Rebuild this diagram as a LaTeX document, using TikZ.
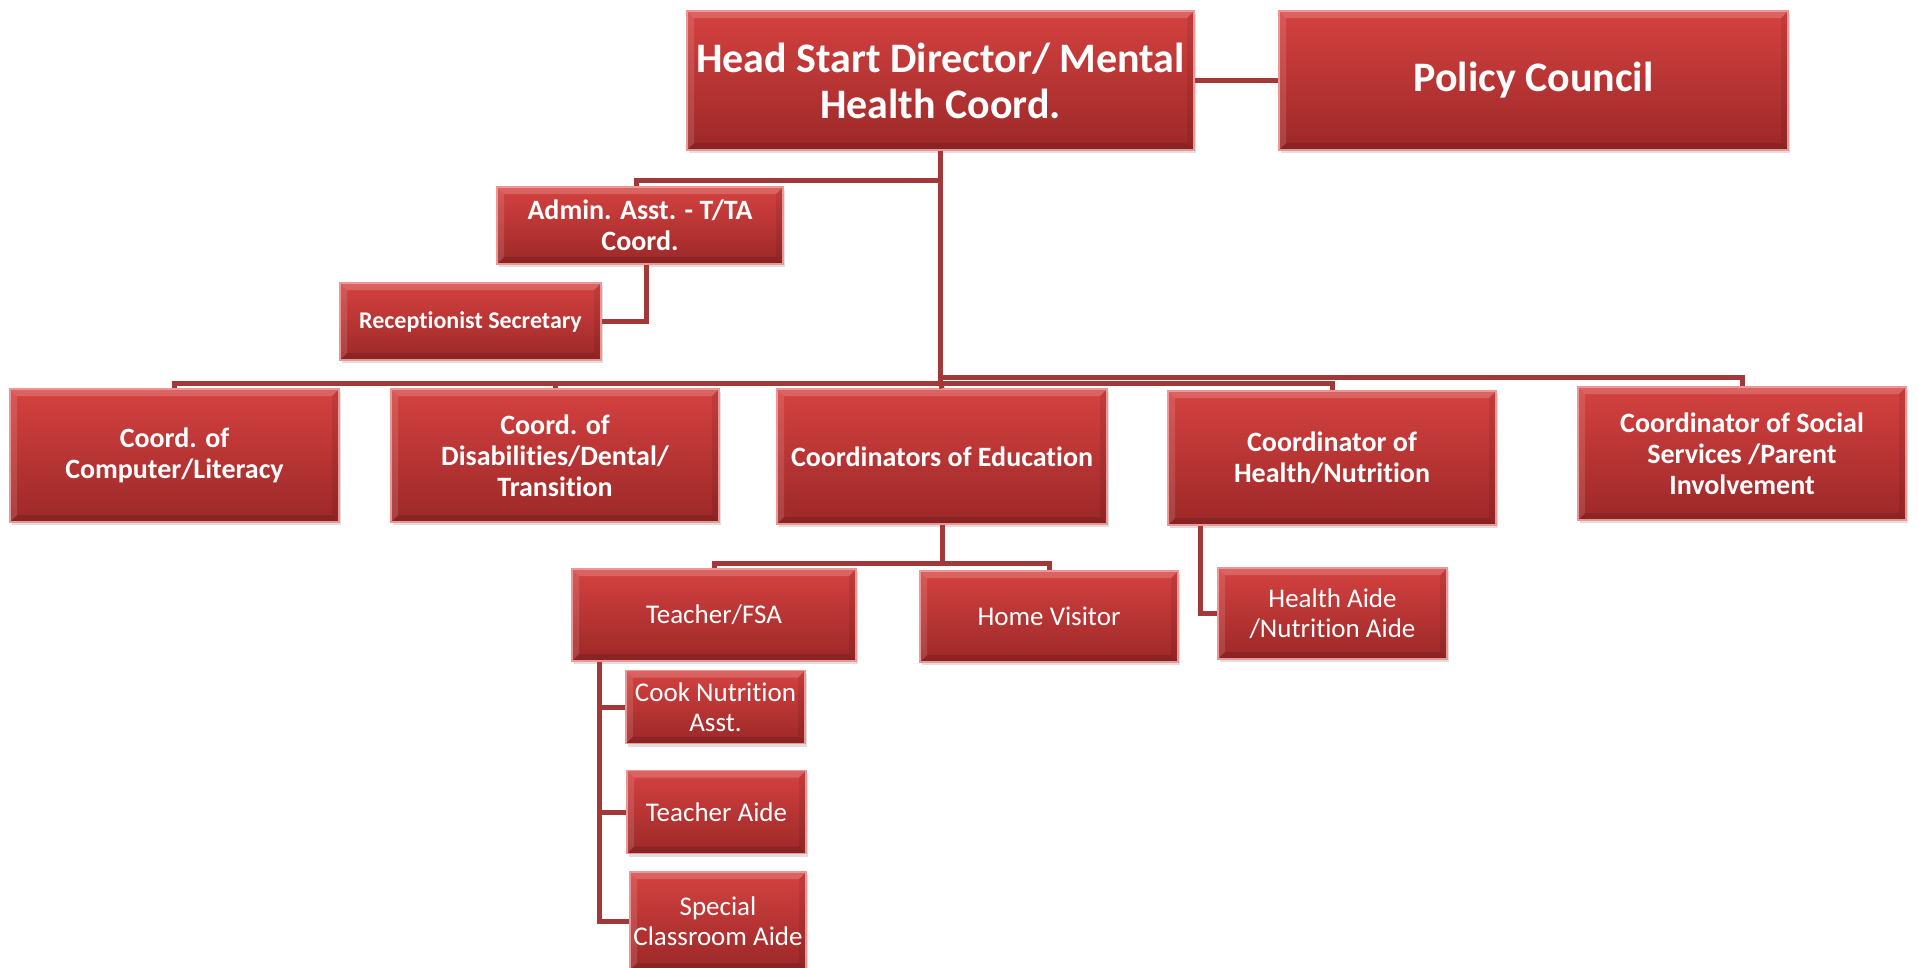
\documentclass[tikz,border=0pt]{standalone}
\usepackage{fontspec}
\setmainfont{Carlito}[Ligatures=NoCommon]
\usetikzlibrary{shadows,calc}
\definecolor{boxtop}{RGB}{212,66,64}
\definecolor{boxbot}{RGB}{156,40,40}
\definecolor{boxedge}{RGB}{236,150,150}
\definecolor{conncol}{RGB}{162,56,56}
\tikzset{
  box/.style={rectangle, top color=boxtop, bottom color=boxbot, draw=boxedge, line width=1.2pt,
    text=white, align=center, inner sep=1pt,
    drop shadow={shadow xshift=2pt, shadow yshift=-3pt, opacity=0.25},
    path picture={
      \fill[white, opacity=0.18] (path picture bounding box.north west) -- (path picture bounding box.north east)
        -- ($(path picture bounding box.north east)+(-7pt,-7pt)$) -- ($(path picture bounding box.north west)+(7pt,-7pt)$) -- cycle;
      \fill[white, opacity=0.12] (path picture bounding box.north west) -- (path picture bounding box.south west)
        -- ($(path picture bounding box.south west)+(7pt,7pt)$) -- ($(path picture bounding box.north west)+(7pt,-7pt)$) -- cycle;
      \fill[black, opacity=0.12] (path picture bounding box.south west) -- (path picture bounding box.south east)
        -- ($(path picture bounding box.south east)+(-7pt,7pt)$) -- ($(path picture bounding box.south west)+(7pt,7pt)$) -- cycle;
      \fill[black, opacity=0.08] (path picture bounding box.north east) -- (path picture bounding box.south east)
        -- ($(path picture bounding box.south east)+(-7pt,7pt)$) -- ($(path picture bounding box.north east)+(-7pt,-7pt)$) -- cycle;
    }},
  bigfont/.style={font=\fontsize{42}{46}\selectfont\bfseries},
  midfont/.style={font=\fontsize{28}{31}\selectfont\bfseries},
  recfont/.style={font=\fontsize{24}{26}\selectfont\bfseries},
  smallfont/.style={font=\fontsize{27}{29.5}\selectfont},
  conn/.style={draw=conncol, line width=5pt}
}
\begin{document}
\begin{tikzpicture}[x=1pt,y=-1pt]
\useasboundingbox (0,0) rectangle (1918,968);
% top level
\node[box,bigfont, minimum width=507pt, minimum height=139pt] (head) at (940.5,80.5) {Head Start Director/ Mental\\Health Coord.};
\node[box,bigfont, minimum width=509pt, minimum height=139pt] (policy) at (1533.5,80.5) {Policy Council};
% admin
\node[box,midfont, minimum width=286pt, minimum height=77pt] (admin) at (640,225.5) {Admin. Asst. - T/TA\\Coord.};
\node[box,recfont, minimum width=261pt, minimum height=77pt] (recep) at (470.5,321.5) {Receptionist Secretary};
% row 2
\node[box,midfont, minimum width=329pt, minimum height=133pt] (comp) at (174.5,455.5) {Coord. of\\Computer/Literacy};
\node[box,midfont, minimum width=328pt, minimum height=133pt] (dis) at (555,455.5) {Coord. of\\Disabilities/Dental/\\Transition};
\node[box,midfont, minimum width=330pt, minimum height=135pt] (edu) at (942,456.5) {Coordinators of Education};
\node[box,midfont, minimum width=328pt, minimum height=134pt] (health) at (1332,458) {Coordinator of\\Health/Nutrition};
\node[box,midfont, minimum width=328pt, minimum height=133pt] (social) at (1742,453.5) {Coordinator of Social\\Services /Parent\\Involvement};
% row 3
\node[box,smallfont, minimum width=284pt, minimum height=92pt] (teacher) at (714,615) {Teacher/FSA};
\node[box,smallfont, minimum width=258pt, minimum height=91pt] (home) at (1049,616.5) {Home Visitor};
\node[box,smallfont, minimum width=229pt, minimum height=91pt] (haide) at (1332.5,613.5) {Health Aide\\/Nutrition Aide};
% column
\node[box,smallfont, minimum width=179pt, minimum height=73pt] (cook) at (715.5,707) {Cook Nutrition\\Asst.};
\node[box,smallfont, minimum width=179pt, minimum height=83pt] (taide) at (716.5,812) {Teacher Aide};
\node[box,smallfont, minimum width=176pt, minimum height=98pt] (special) at (718,921) {Special\\Classroom Aide};
% bus coordinates
\coordinate (busadmin) at (0,181);
\coordinate (busA) at (0,383);
\coordinate (busB) at (0,377);
\coordinate (busedu) at (0,563);
% connectors
\draw[conn] (head.east) -- (policy.west);
\draw[conn] (head.south) -- (head.south |- busadmin) -| ([xshift=-4pt]admin.north);
\draw[conn] ([xshift=6pt]admin.south) |- (recep.east);
\draw[conn] (head.south) -- (head.south |- busA) -| (comp.north);
\draw[conn] (head.south |- busA) -| (dis.north);
\draw[conn] (head.south |- busA) -| (health.north);
\draw[conn] (head.south |- busB) -| (social.north);
\draw[conn] (head.south |- busA) -- (edu.north);
\draw[conn] (edu.south) -- (edu.south |- busedu) -| (teacher.north);
\draw[conn] (edu.south |- busedu) -| (home.north);
\draw[conn] ([xshift=33pt]health.south west) |- (haide.west);
\draw[conn] ([xshift=28pt]teacher.south west) |- (cook.west);
\draw[conn] ([xshift=28pt]teacher.south west) |- (taide.west);
\draw[conn] ([xshift=28pt]teacher.south west) |- (special.west);
\end{tikzpicture}
\end{document}
